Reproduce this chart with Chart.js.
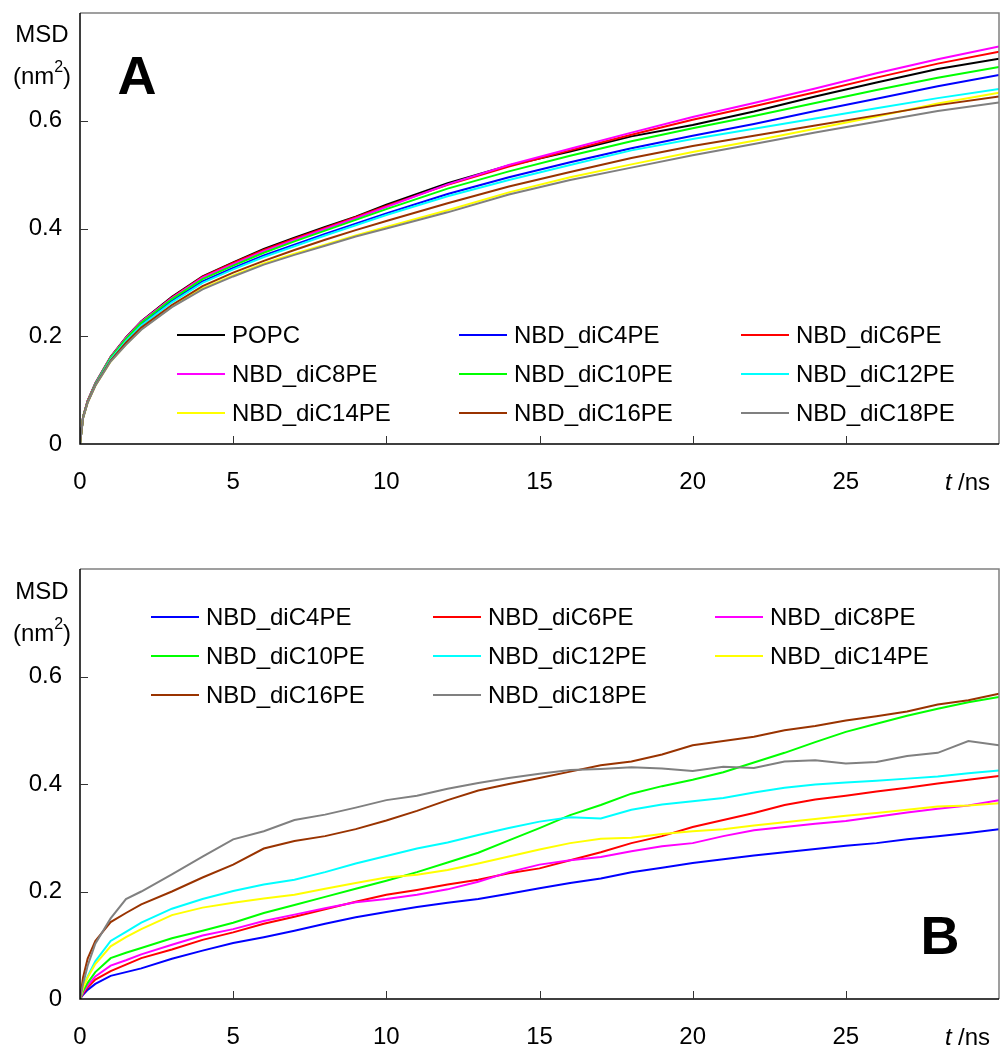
<!DOCTYPE html>
<html lang="en">
<head>
<meta charset="UTF-8">
<title>MSD curves</title>
<script src="https://cdn.jsdelivr.net/npm/chart.js"></script>
<style>
  body { margin: 0; background: #fff; }
  canvas { position: absolute; left: 0; }
  #chartA { top: 0; }
  #chartB { top: 540px; }
</style>
</head>
<body>
<canvas id="chartA" width="1000" height="540"></canvas>
<canvas id="chartB" width="1000" height="514"></canvas>
<script>
// ---- panel A data (t in ns, MSD in nm^2) ----
const tA = [0, 0.1, 0.25, 0.5, 1, 1.5, 2, 3, 4, 5, 6, 7, 8, 9, 10, 12, 14, 16, 18, 20, 22, 24, 26, 28, 30];
const popcA = [0, .050, .080, .113, .162, .198, .228, .273, .311, .337, .362, .383, .403, .422, .444, .484, .517, .543, .571, .592, .617, .645, .671, .696, .715];
const c4A   = [0, .049, .079, .110, .158, .193, .222, .266, .302, .327, .350, .370, .390, .409, .428, .464, .495, .523, .549, .572, .594, .618, .641, .664, .685];
const c6A   = [0, .050, .080, .112, .161, .197, .227, .272, .310, .336, .360, .381, .401, .421, .442, .481, .515, .545, .574, .602, .627, .653, .680, .706, .728];
const c8A   = [0, .050, .080, .112, .161, .197, .227, .271, .309, .334, .358, .379, .399, .419, .440, .482, .518, .548, .578, .607, .633, .660, .688, .714, .738];
const c10A  = [0, .050, .079, .111, .160, .195, .225, .269, .306, .331, .355, .376, .396, .416, .436, .474, .506, .535, .562, .586, .609, .633, .657, .680, .700];
const c12A  = [0, .049, .078, .110, .157, .191, .220, .263, .299, .324, .347, .367, .387, .406, .425, .460, .490, .518, .545, .566, .585, .604, .623, .642, .659];
const c14A  = [0, .048, .077, .108, .153, .185, .213, .255, .289, .313, .335, .353, .370, .387, .403, .434, .467, .495, .519, .542, .563, .585, .608, .632, .652];
const c16A  = [0, .049, .078, .109, .155, .188, .216, .258, .293, .318, .340, .360, .379, .397, .414, .447, .478, .505, .531, .553, .572, .591, .610, .629, .645];
const c18A  = [0, .048, .077, .108, .153, .184, .212, .254, .287, .311, .333, .351, .368, .385, .400, .430, .463, .490, .513, .536, .557, .578, .598, .618, .634];

// ---- panel B data ----
const tB = [0, 0.1, 0.25, 0.5, 1, 1.5, 2, 3, 4, 5, 6, 7, 8, 9, 10, 11, 12, 13, 14, 15, 16, 17, 18, 19, 20, 21, 22, 23, 24, 25, 26, 27, 28, 29, 30];
const c4B  = [0, .008, .017, .028, .043, .050, .057, .075, .090, .104, .115, .127, .140, .152, .162, .171, .179, .186, .196, .206, .216, .224, .236, .244, .253, .260, .267, .273, .279, .285, .290, .297, .303, .309, .316];
const c6B  = [0, .010, .022, .036, .052, .064, .076, .092, .110, .124, .140, .153, .167, .181, .194, .203, .213, .222, .234, .243, .258, .273, .290, .303, .320, .333, .346, .361, .371, .378, .386, .393, .401, .408, .415];
const c8B  = [0, .012, .025, .042, .062, .072, .083, .101, .118, .130, .145, .157, .169, .180, .186, .194, .204, .218, .236, .250, .258, .264, .275, .284, .290, .303, .314, .320, .326, .331, .339, .347, .354, .360, .370];
const c10B = [0, .015, .030, .050, .076, .086, .095, .113, .127, .142, .160, .175, .190, .205, .220, .236, .254, .272, .295, .318, .342, .361, .382, .396, .408, .422, .440, .458, .478, .497, .512, .527, .540, .552, .562];
const c12B = [0, .022, .042, .070, .108, .125, .142, .168, .186, .201, .213, .222, .236, .252, .266, .280, .291, .305, .318, .330, .338, .336, .352, .362, .368, .374, .384, .393, .399, .403, .406, .410, .414, .420, .425];
const c14B = [0, .020, .040, .065, .098, .115, .130, .156, .170, .179, .187, .194, .205, .216, .226, .231, .240, .252, .265, .278, .290, .298, .300, .307, .312, .316, .323, .329, .335, .341, .346, .352, .358, .360, .364];
const c16B = [0, .040, .075, .108, .143, .160, .176, .200, .226, .250, .280, .294, .303, .316, .332, .350, .370, .388, .400, .411, .423, .435, .442, .455, .472, .480, .488, .500, .508, .518, .526, .535, .548, .556, .568];
const c18B = [0, .028, .062, .103, .150, .186, .200, .232, .265, .297, .312, .333, .343, .356, .370, .378, .391, .402, .411, .419, .426, .428, .431, .429, .424, .432, .430, .442, .444, .438, .441, .452, .458, .480, .472];

const namesA = ['POPC', 'NBD_diC4PE', 'NBD_diC6PE', 'NBD_diC8PE', 'NBD_diC10PE', 'NBD_diC12PE', 'NBD_diC14PE', 'NBD_diC16PE', 'NBD_diC18PE'];
const colorsA = ['#000000', '#0000ff', '#ff0000', '#ff00ff', '#00ff00', '#00ffff', '#ffff00', '#993300', '#808080'];
const namesB = namesA.slice(1);
const colorsB = colorsA.slice(1);

const FONT = "'Liberation Sans', Arial, sans-serif";
Chart.defaults.font.family = FONT;

function panelPlugin(p) {
  return {
    id: 'panel' + p.letter,
    afterDraw(chart) {
      const ctx = chart.ctx;
      const a = chart.chartArea;
      const xs = chart.scales.x, ys = chart.scales.y;
      ctx.save();

      // frame: grey top/right, black left/bottom
      ctx.lineWidth = 1.5;
      ctx.strokeStyle = '#808080';
      ctx.beginPath();
      ctx.moveTo(a.left, a.top); ctx.lineTo(a.right, a.top); ctx.lineTo(a.right, a.bottom);
      ctx.stroke();
      ctx.strokeStyle = '#000';
      ctx.beginPath();
      ctx.moveTo(a.left, a.top); ctx.lineTo(a.left, a.bottom); ctx.lineTo(a.right, a.bottom);
      ctx.stroke();

      // inward tick marks
      ctx.lineWidth = 1;
      ctx.strokeStyle = '#333';
      ctx.beginPath();
      xs.ticks.forEach(t => {
        if (t.value > 0) {
          const x = Math.round(xs.getPixelForValue(t.value)) + 0.5;
          ctx.moveTo(x, a.bottom); ctx.lineTo(x, a.bottom - 8);
        }
      });
      ys.ticks.forEach(t => {
        if (t.value > 0) {
          const y = Math.round(ys.getPixelForValue(t.value)) + 0.5;
          ctx.moveTo(a.left, y); ctx.lineTo(a.left + 8, y);
        }
      });
      ctx.stroke();

      // y label
      ctx.fillStyle = '#000';
      ctx.textBaseline = 'middle';
      ctx.textAlign = 'center';
      ctx.font = '24px ' + FONT;
      ctx.fillText('MSD', 42, p.msdY);
      ctx.textAlign = 'left';
      const w1 = ctx.measureText('(nm').width;
      ctx.font = '16px ' + FONT;
      const w2 = ctx.measureText('2').width;
      ctx.font = '24px ' + FONT;
      const w3 = ctx.measureText(')').width;
      let x0 = 42 - (w1 + w2 + w3) / 2;
      ctx.fillText('(nm', x0, p.msdY + 42);
      ctx.font = '16px ' + FONT;
      ctx.fillText('2', x0 + w1, p.msdY + 33);
      ctx.font = '24px ' + FONT;
      ctx.fillText(')', x0 + w1 + w2, p.msdY + 42);

      // x label
      ctx.font = 'italic 24px ' + FONT;
      ctx.fillText('t', 945, p.xLabelY);
      ctx.font = '24px ' + FONT;
      ctx.fillText('/ns', 958, p.xLabelY);

      // panel letter
      ctx.font = 'bold 54px ' + FONT;
      ctx.textAlign = 'center';
      ctx.fillText(p.letter, p.letterX, p.letterY);

      // legend, 3 columns
      ctx.textAlign = 'left';
      ctx.font = '24px ' + FONT;
      chart.data.datasets.forEach((ds, i) => {
        const col = i % 3, row = Math.floor(i / 3);
        const lx = p.legX + col * 282;
        const ly = p.legY + row * 39;
        ctx.strokeStyle = ds.borderColor;
        ctx.lineWidth = 2;
        ctx.beginPath();
        ctx.moveTo(lx, ly); ctx.lineTo(lx + 48, ly);
        ctx.stroke();
        ctx.fillStyle = '#000';
        ctx.fillText(ds.label, lx + 55, ly + 1);
      });
      ctx.restore();
    }
  };
}

function makeChart(id, times, series, names, colors, p) {
  const n = series.length;
  const datasets = series.map((vals, i) => ({
    label: names[i],
    data: vals.map((v, k) => ({ x: times[k], y: v })),
    borderColor: colors[i],
    borderWidth: 2,
    pointRadius: 0,
    tension: 0,
    fill: false,
    order: n - i
  }));
  const canvas = document.getElementById(id);
  return new Chart(canvas.getContext('2d'), {
    type: 'line',
    data: { datasets },
    options: {
      responsive: false,
      animation: false,
      devicePixelRatio: 1,
      layout: { padding: { top: p.top, right: 1, left: 0, bottom: 0 } },
      plugins: { legend: { display: false }, tooltip: { enabled: false } },
      scales: {
        x: {
          type: 'linear', min: 0, max: 30,
          grid: { display: false, drawTicks: false },
          border: { display: false },
          ticks: {
            stepSize: 5, padding: 24, color: '#000',
            font: { size: 24 },
            maxRotation: 0
          },
          // the last position carries the "t /ns" label instead of 30
          afterBuildTicks: s => { s.ticks = s.ticks.filter(t => t.value < 29.9); },
          afterFit: s => {
            s.height = canvas.height - p.bottom;
            s.paddingLeft = 0; s.paddingRight = 0; s.paddingTop = 0; s.paddingBottom = 0;
          }
        },
        y: {
          type: 'linear', min: 0, max: 0.8,
          grid: { display: false, drawTicks: false },
          border: { display: false },
          ticks: {
            stepSize: 0.2, padding: 18, color: '#000',
            font: { size: 24 },
            callback: v => (v === 0 ? '0' : v.toFixed(1))
          },
          afterBuildTicks: s => { s.ticks = s.ticks.filter(t => t.value < 0.79); },
          afterFit: s => {
            s.width = 80;
            s.paddingLeft = 0; s.paddingRight = 0; s.paddingTop = 0; s.paddingBottom = 0;
          }
        }
      }
    },
    plugins: [panelPlugin(p)]
  });
}

makeChart('chartA', tA,
  [popcA, c4A, c6A, c8A, c10A, c12A, c14A, c16A, c18A], namesA, colorsA,
  { top: 13, bottom: 444, letter: 'A', letterX: 137, letterY: 79, msdY: 35, xLabelY: 483, legX: 177, legY: 335 });

makeChart('chartB', tB,
  [c4B, c6B, c8B, c10B, c12B, c14B, c16B, c18B], namesB, colorsB,
  { top: 29, bottom: 459, letter: 'B', letterX: 940, letterY: 399, msdY: 52, xLabelY: 498, legX: 151, legY: 77 });
</script>
</body>
</html>
